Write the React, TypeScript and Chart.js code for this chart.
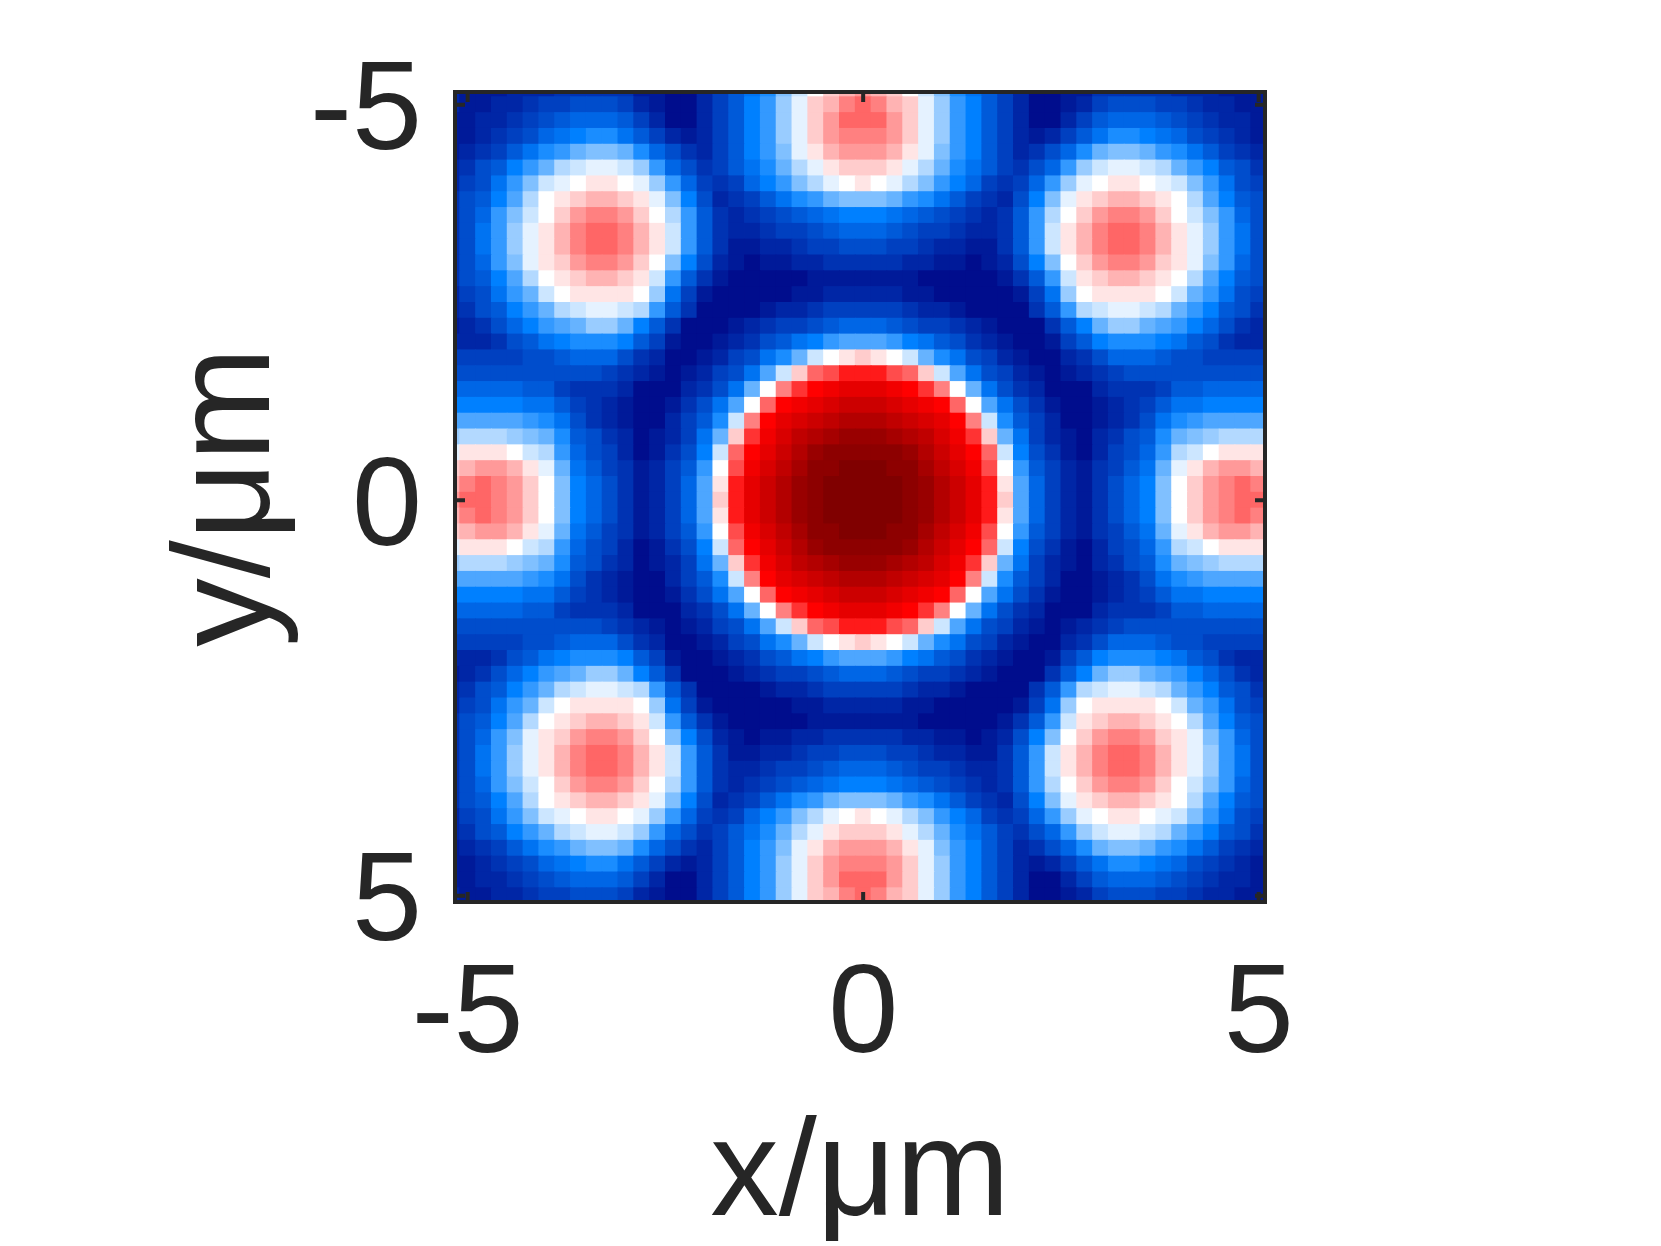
import React, { useEffect, useRef } from "react";
import { Chart, registerables } from "chart.js";

Chart.register(...registerables);

const tickValues = [-5, 0, 5];
const xLabel = "x/μm";
const yLabel = "y/μm";
const INK = "#262626";

// Cell centres (μm) of the field, on both axes.
const cellCentres = [
  -5.2, -5.0, -4.8, -4.6, -4.4, -4.2, -4.0, -3.8, -3.6, -3.4, -3.2, -3.0, -2.8,
  -2.6, -2.4, -2.2, -2.0, -1.8, -1.6, -1.4, -1.2, -1.0, -0.8, -0.6, -0.4, -0.2,
  0.0, 0.2, 0.4, 0.6, 0.8, 1.0, 1.2, 1.4, 1.6, 1.8, 2.0, 2.2, 2.4, 2.6, 2.8, 3.0,
  3.2, 3.4, 3.6, 3.8, 4.0, 4.2, 4.4, 4.6, 4.8, 5.0,
];

// Colour-bar anchors, evenly spaced over the 0..40 value range.
const colourAnchors = [
  [0, 0, 128],
  [0, 128, 255],
  [255, 255, 255],
  [255, 0, 0],
  [128, 0, 0],
];

// Values for |x|, |y| = 0, 0.2, ... 5.2 (rows are |y|).
// The pattern is symmetric about both axes, so one quadrant is listed.
const quadrant = [
  [40,40,40,39,38,36,34,32,29,22,13,8,5,3,2,4,6,8,10,15,20,22,24,25,26,26,24],
  [40,40,40,39,38,36,34,32,29,21,13,8,5,3,2,4,6,8,10,15,20,22,24,25,26,25,23],
  [40,40,39,39,37,35,33,31,27,20,12,7,5,3,2,4,5,7,9,14,19,21,23,24,24,23,22],
  [39,39,39,38,36,34,32,30,26,18,10,6,4,2,1,3,5,6,8,12,17,18,20,21,21,21,19],
  [38,38,37,36,35,33,31,28,22,14,9,5,3,2,1,3,4,6,7,11,14,15,16,17,17,17,16],
  [36,36,35,34,33,32,30,25,18,11,7,5,3,1,1,2,3,4,6,9,11,12,13,13,13,13,13],
  [34,34,33,32,31,30,26,20,13,9,6,4,2,1,1,2,3,4,5,7,9,9,10,10,10,10,10],
  [32,32,31,30,28,25,20,14,9,6,4,3,1,1,1,3,4,4,4,5,7,7,8,8,8,8,8],
  [29,29,27,26,22,18,13,9,6,5,3,2,1,2,3,4,5,6,6,6,6,6,6,6,6,6,6],
  [22,21,20,18,14,11,9,6,5,3,2,1,1,3,4,6,8,8,8,7,6,6,5,5,5,5,5],
  [13,13,12,10,9,7,6,4,3,2,1,1,2,5,7,10,11,11,11,10,9,7,6,4,3,3,3],
  [8,8,7,6,5,5,4,3,2,1,1,1,4,7,10,14,16,16,14,13,12,10,8,6,4,3,2],
  [5,5,5,4,3,3,2,1,1,1,1,4,7,12,17,18,19,19,18,17,14,12,10,7,6,4,3],
  [3,3,3,2,2,1,1,1,1,1,2,5,9,16,20,21,21,21,21,20,18,14,12,9,6,5,3],
  [2,2,2,2,1,1,1,1,1,2,4,7,12,18,21,22,23,23,22,21,20,17,13,10,7,6,4],
  [4,4,4,3,3,2,2,1,2,3,6,10,15,20,22,24,25,25,24,22,21,19,15,12,8,6,4],
  [6,6,5,5,4,3,3,2,2,4,7,12,18,21,23,25,26,26,25,23,21,19,16,12,9,6,4],
  [8,8,7,6,5,5,4,3,3,4,7,12,18,21,23,25,26,26,25,23,21,19,16,12,9,6,4],
  [10,10,9,8,7,6,5,4,3,4,7,12,17,20,22,24,25,25,24,22,20,18,15,12,8,6,4],
  [15,15,14,12,11,9,7,5,4,3,6,10,15,19,21,22,23,23,22,21,20,17,13,10,7,6,4],
  [21,20,19,17,15,12,10,8,5,4,5,8,12,16,19,20,21,21,20,19,18,15,12,9,6,5,3],
  [22,22,21,19,17,14,11,9,7,5,4,6,8,12,16,18,19,19,18,17,14,12,10,7,6,4,3],
  [24,24,23,21,19,15,12,10,7,5,3,4,6,8,11,14,15,15,14,12,11,9,7,5,4,3,2],
  [25,25,24,22,19,16,12,10,7,5,3,2,3,5,7,9,11,11,10,9,8,6,5,4,3,2,2],
  [26,26,24,22,19,16,12,10,7,5,3,1,1,3,5,7,8,8,8,7,6,5,4,3,3,2,2],
  [26,25,23,22,19,16,12,10,7,5,3,1,1,2,3,5,6,6,6,5,5,4,3,3,2,2,3],
  [24,23,22,20,18,15,11,9,7,5,3,1,1,2,2,4,4,4,4,4,3,3,3,2,2,2,3],
];

function colourFor(value: number): string {
  const t = Math.max(0, Math.min(39.999, value)) / 10;
  const i = Math.floor(t);
  const f = t - i;
  const a = colourAnchors[i];
  const b = colourAnchors[i + 1];
  const c = a.map((v, k) => Math.round(v + (b[k] - v) * f));
  return `rgb(${c[0]},${c[1]},${c[2]})`;
}

const cells: { x: number; y: number }[] = [];
const cellColours: string[] = [];
cellCentres.forEach((y, r) => {
  cellCentres.forEach((x, c) => {
    cells.push({ x, y });
    cellColours.push(colourFor(quadrant[Math.abs(r - 26)][Math.abs(c - 26)]));
  });
});

const framePlugin = {
  id: "matlabFrame",
  afterDatasetsDraw(chart: any) {
    const { ctx, chartArea: a, scales } = chart;
    ctx.save();
    ctx.strokeStyle = INK;
    ctx.lineWidth = 4;
    ctx.beginPath();
    tickValues.forEach((v) => {
      const px = scales.x.getPixelForValue(v);
      const py = scales.y.getPixelForValue(v);
      ctx.moveTo(px, a.top);
      ctx.lineTo(px, a.top + 10);
      ctx.moveTo(px, a.bottom);
      ctx.lineTo(px, a.bottom - 10);
      ctx.moveTo(a.left, py);
      ctx.lineTo(a.left + 10, py);
      ctx.moveTo(a.right, py);
      ctx.lineTo(a.right - 10, py);
    });
    ctx.stroke();
    ctx.strokeRect(a.left, a.top, a.right - a.left, a.bottom - a.top);
    ctx.restore();
  },
};

const fontFamily = "'Liberation Sans', Arial, sans-serif";

export default function App() {
  const ref = useRef<HTMLCanvasElement>(null);
  useEffect(() => {
    document.body.style.background = "#ffffff";
    const setTicks = (scale: any) => {
      scale.ticks = tickValues.map((value) => ({ value }));
    };
    const clearPadding = (s: any) => {
      s.paddingTop = 0;
      s.paddingBottom = 0;
      s.paddingLeft = 0;
      s.paddingRight = 0;
    };
    const chart = new Chart(ref.current!, {
      type: "scatter",
      data: {
        datasets: [
          {
            data: cells,
            pointStyle: "rect",
            pointRadius: 11.8,
            pointHoverRadius: 11.8,
            pointBorderWidth: 0,
            pointBackgroundColor: cellColours,
            clip: 0,
          } as any,
        ],
      },
      plugins: [framePlugin],
      options: {
        animation: false,
        responsive: false,
        devicePixelRatio: 1,
        events: [],
        layout: {
          autoPadding: false,
          padding: { left: 0, right: 396, top: 92, bottom: 0 },
        },
        plugins: { legend: { display: false }, tooltip: { enabled: false } },
        scales: {
          x: {
            type: "linear",
            min: -5.16,
            max: 5.08,
            afterBuildTicks: setTicks,
            afterFit: (s: any) => {
              s.height = 344;
              clearPadding(s);
            },
            grid: { display: false, drawTicks: false },
            border: { display: false },
            ticks: {
              autoSkip: false,
              maxRotation: 0,
              padding: 40,
              color: INK,
              font: { family: fontFamily, size: 126, lineHeight: 1.2 },
              callback: (v: any) => String(v),
            },
            title: {
              display: true,
              text: xLabel,
              color: INK,
              padding: { top: 0, bottom: 0 },
              font: { family: fontFamily, size: 137, lineHeight: 1 },
            },
          },
          y: {
            type: "linear",
            reverse: true,
            min: -5.16,
            max: 5.08,
            afterBuildTicks: setTicks,
            afterFit: (s: any) => {
              s.width = 455;
              clearPadding(s);
            },
            grid: { display: false, drawTicks: false },
            border: { display: false },
            ticks: {
              autoSkip: false,
              padding: 33,
              labelOffset: 10,
              color: INK,
              font: { family: fontFamily, size: 126, lineHeight: 1.2 },
              callback: (v: any) => String(v),
            },
            title: {
              display: true,
              text: yLabel,
              color: INK,
              padding: { top: 163, bottom: 0 },
              font: { family: fontFamily, size: 137, lineHeight: 1 },
            },
          },
        },
      },
    } as any);
    return () => chart.destroy();
  }, []);
  return (
    <canvas
      ref={ref}
      width={1661}
      height={1246}
      style={{ position: "absolute", left: 0, top: 0, width: 1661, height: 1246 }}
    />
  );
}
